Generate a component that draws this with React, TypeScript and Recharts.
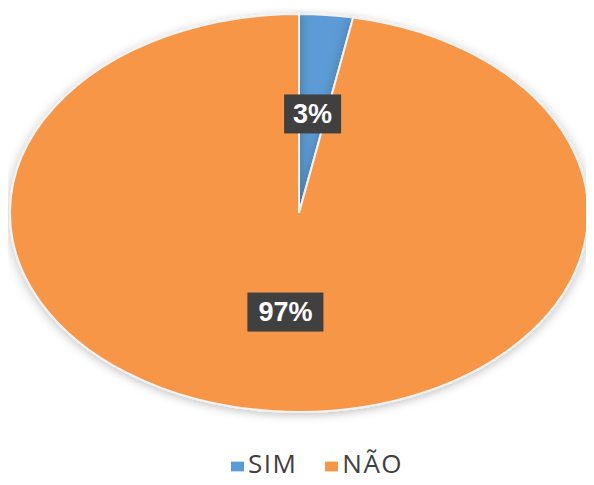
import React from 'react';
import { PieChart, Pie, Cell, Legend, Sector } from 'recharts';

const categories = ['SIM', 'NÃO'];
const values = [3, 97];
const colors = ['#5B9BD5', '#F79646'];

const data = categories.map((name, i) => ({ name, value: values[i] }));

const W = 594;
const H = 485;
const CX = 299;
const CY = 213;
const RY = 199;
const SX = 289 / 199;
const RAD = Math.PI / 180;

const EllipseSector = (props: any) => {
  const { cx, cy } = props;
  return (
    <g transform={`translate(${cx},${cy}) scale(${SX},1) translate(${-cx},${-cy})`}>
      <Sector {...props} stroke="#f2f2f2" strokeWidth={2} vectorEffect="non-scaling-stroke" />
    </g>
  );
};

const renderLabel = (props: any) => {
  const { cx, cy, midAngle, outerRadius, percent } = props;
  const r = outerRadius * 0.5;
  const x = cx + r * Math.cos(-midAngle * RAD) * SX;
  const y = cy + r * Math.sin(-midAngle * RAD);
  const text = `${Math.round(percent * 100)}%`;
  const w = text.length * 19 + 19;
  const h = 39;
  return (
    <g>
      <rect x={x - w / 2} y={y - h / 2} width={w} height={h} fill="#404040" />
      <text
        x={x}
        y={y}
        fill="#ffffff"
        textAnchor="middle"
        dominantBaseline="central"
        fontSize={27}
        fontWeight="bold"
        fontFamily="Liberation Sans, Arial, sans-serif"
      >
        {text}
      </text>
    </g>
  );
};

export default function App() {
  return (
    <div style={{ margin: -8, width: W, height: H, background: '#fff' }}>
      <PieChart width={W} height={H} margin={{ top: 0, right: 0, bottom: 4, left: 0 }}>
        <defs>
          <filter id="shadow" x="-10%" y="-10%" width="120%" height="120%">
            <feDropShadow dx="0" dy="2" stdDeviation="4" floodColor="#000" floodOpacity="0.25" />
          </filter>
        </defs>
        <Pie
          data={data}
          dataKey="value"
          nameKey="name"
          cx={CX}
          cy={CY}
          outerRadius={RY}
          startAngle={90}
          endAngle={-270}
          shape={EllipseSector}
          label={renderLabel}
          labelLine={false}
          isAnimationActive={false}
          style={{ filter: 'url(#shadow)' }}
        >
          {data.map((d, i) => (
            <Cell key={d.name} fill={colors[i]} />
          ))}
        </Pie>
        <Legend
          verticalAlign="bottom"
          align="center"
          iconType="rect"
          iconSize={13}
          itemSorter={(item: any) => categories.indexOf(item.value)}
          wrapperStyle={{ fontFamily: 'Open Sans, sans-serif', fontSize: 26, paddingLeft: 34 }}
          formatter={(value: string) => (
            <span style={{ color: '#404040', marginRight: 18, letterSpacing: 1.5 }}>{value}</span>
          )}
        />
      </PieChart>
    </div>
  );
}
